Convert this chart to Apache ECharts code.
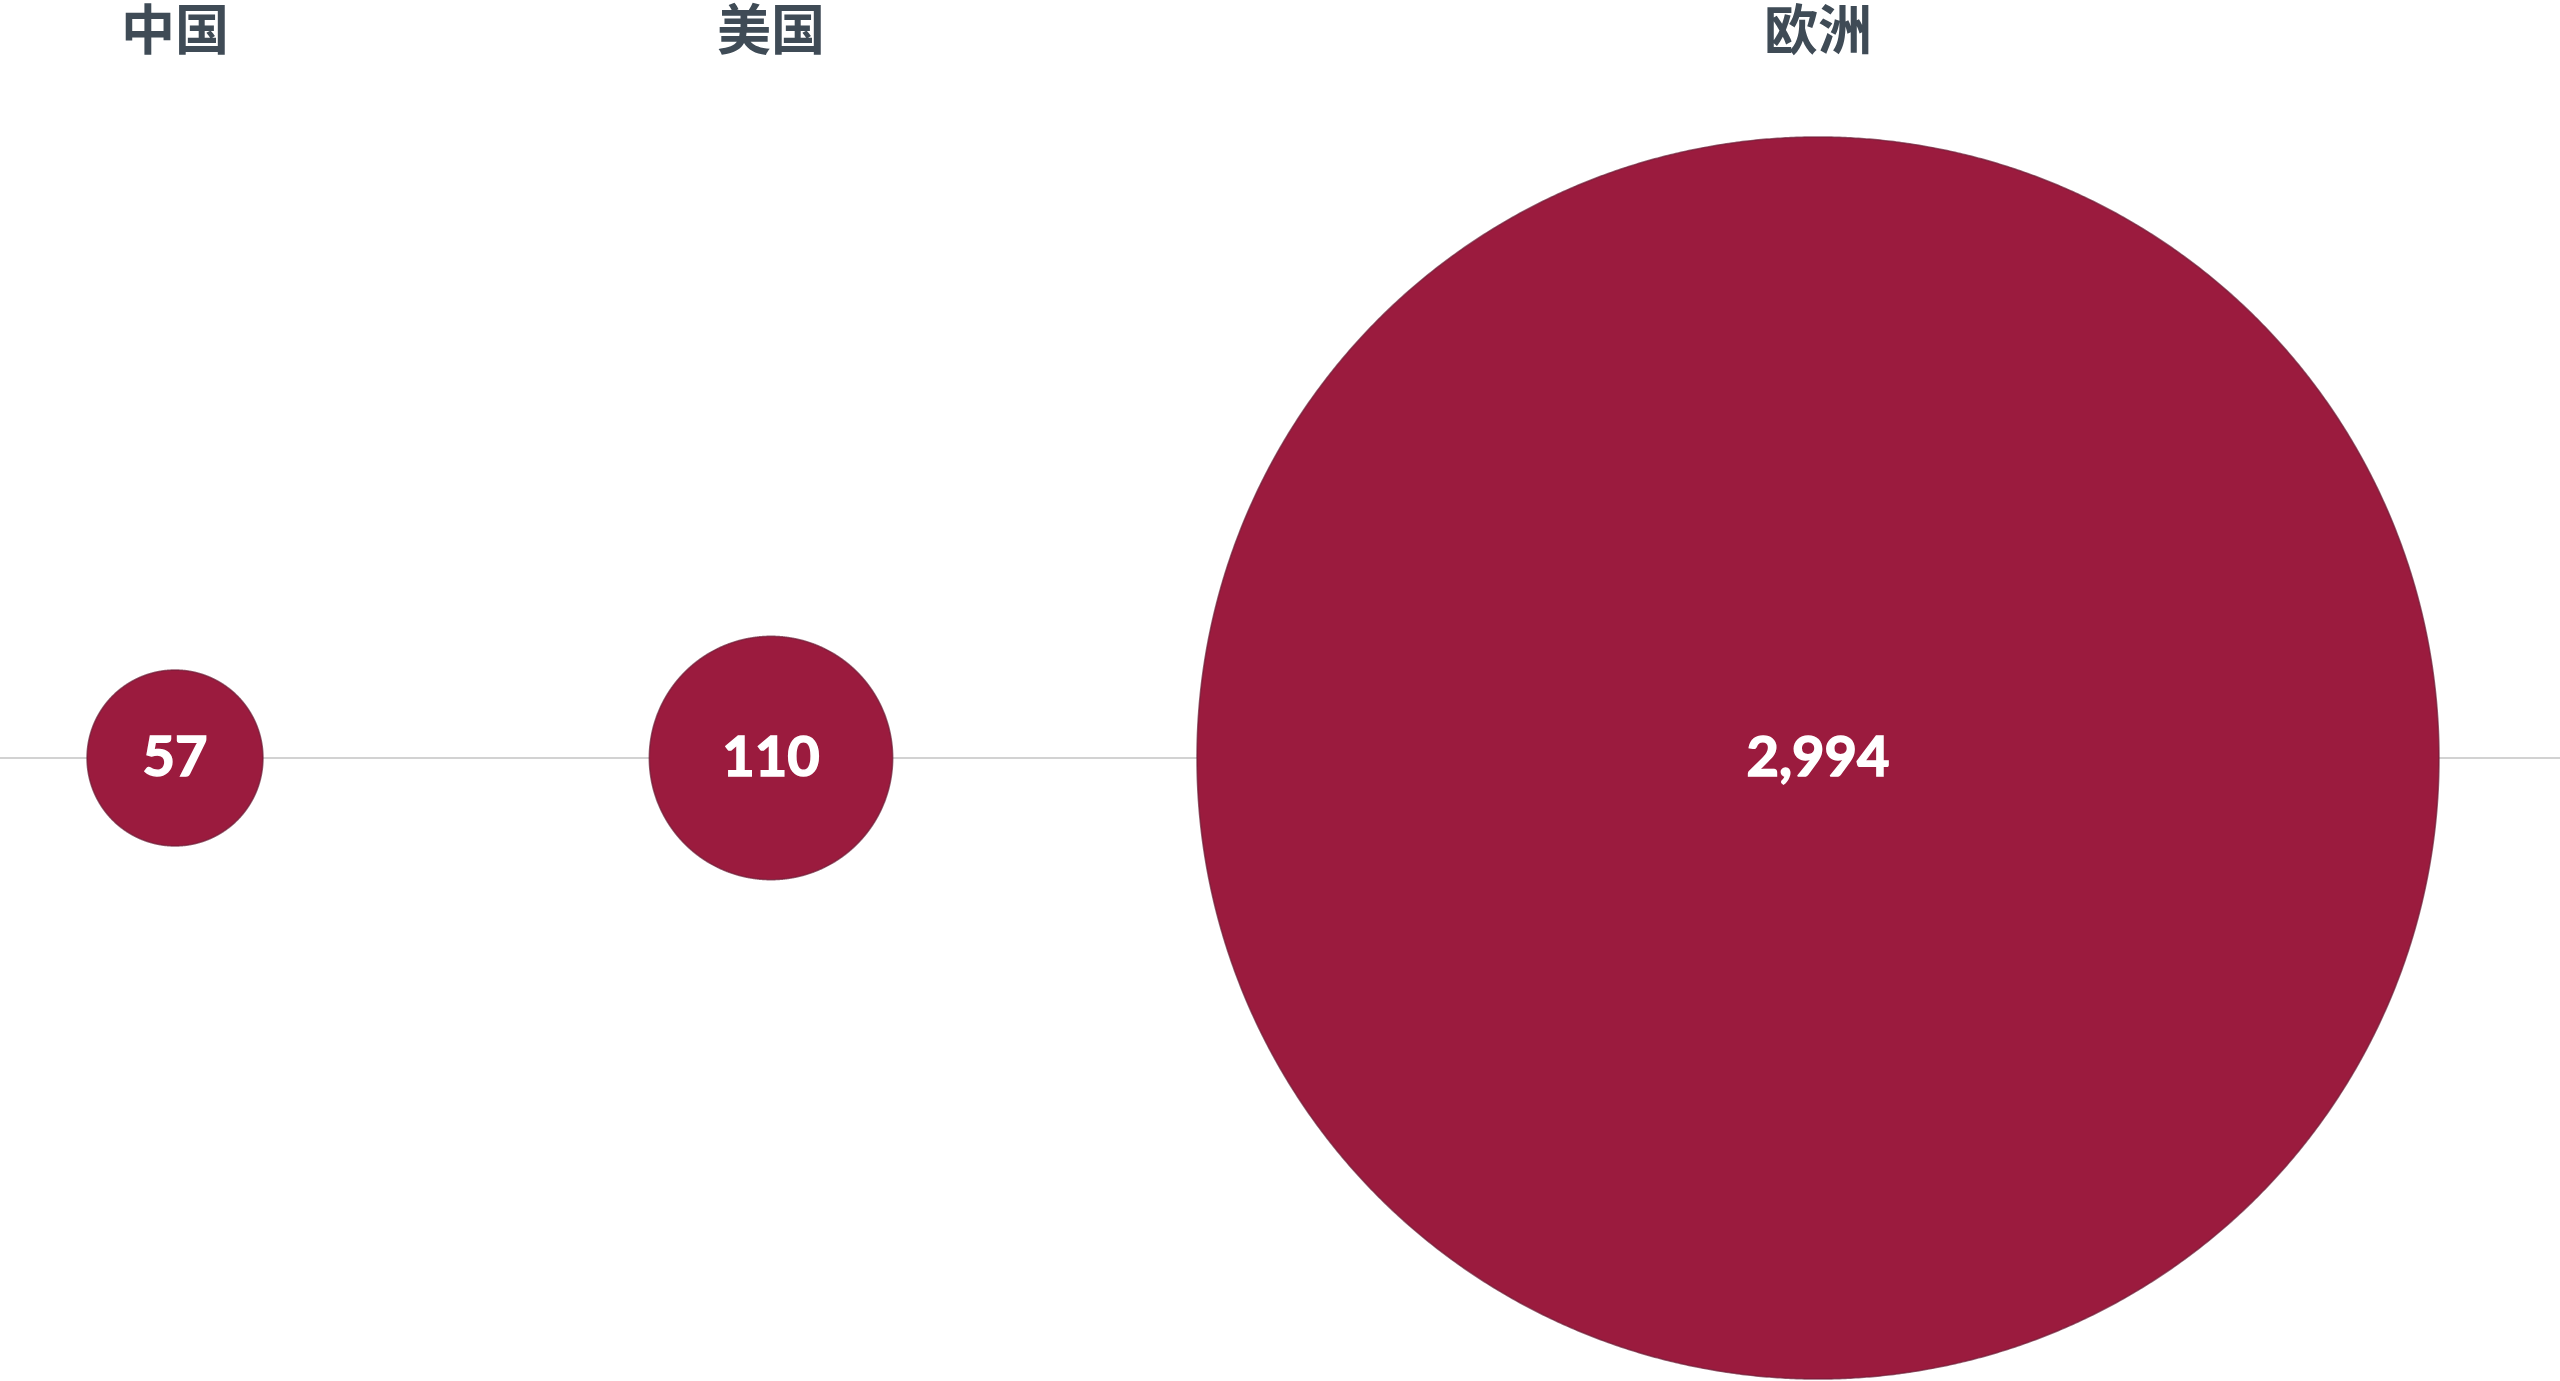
<!DOCTYPE html>
<html>
<head>
<meta charset="utf-8">
<style>
  html, body { margin: 0; padding: 0; background: #ffffff; }
  #chart { width: 2560px; height: 1381px; }
</style>
<script src="https://cdn.jsdelivr.net/npm/echarts@6/dist/echarts.min.js"></script>
</head>
<body>
<div id="chart"></div>
<script>
// ---- data ----
const categories = ['中国', '美国', '欧洲'];
const values = [57, 110, 2994];

// ---- layout (positions/styles, not data) ----
const gridCenters = [175, 771, 1818];
const gridWidth = 300;
const plotTop = 137;
const plotHeight = 1242;

function bubbleSize(v) {
  return 23.95 * Math.pow(v, 0.4933);
}

function circlePoints(cx, cy, r) {
  const n = 1440;
  const pts = [];
  for (let k = 0; k < n; k++) {
    const a = (k / n) * Math.PI * 2;
    pts.push([cx + r * Math.cos(a), cy + r * Math.sin(a)]);
  }
  return pts;
}

const chart = echarts.init(document.getElementById('chart'));

const grids = [];
const xAxes = [];
const yAxes = [];
const series = [];

categories.forEach(function (cat, i) {
  grids.push({
    left: gridCenters[i] - gridWidth / 2,
    width: gridWidth,
    top: plotTop,
    height: plotHeight,
    containLabel: false
  });
  xAxes.push({
    type: 'category',
    gridIndex: i,
    data: [cat],
    position: 'top',
    boundaryGap: true,
    axisLine: { show: false },
    axisTick: { show: false },
    splitLine: { show: false },
    axisLabel: {
      show: true,
      margin: 80,
      color: '#3f4b56',
      fontSize: 54,
      lineHeight: 56,
      fontWeight: 'bold',
      fontFamily: '"Noto Sans CJK SC", sans-serif'
    }
  });
  yAxes.push({
    type: 'value',
    gridIndex: i,
    min: -1,
    max: 1,
    show: false
  });
  series.push({
    type: 'custom',
    xAxisIndex: i,
    yAxisIndex: i,
    z: 5,
    clip: false,
    data: [[0, 0, values[i]]],
    renderItem: function (params, api) {
      const p = api.coord([api.value(0), api.value(1)]);
      const v = api.value(2);
      const r = bubbleSize(v) / 2;
      return {
        type: 'group',
        children: [
          {
            type: 'polygon',
            shape: { points: circlePoints(p[0], p[1], r) },
            style: {
              fill: '#9b1b3e',
              stroke: 'rgba(110,30,55,0.7)',
              lineWidth: 1.5
            }
          },
          {
            type: 'text',
            style: {
              x: p[0],
              y: p[1],
              text: v.toLocaleString('en-US'),
              align: 'center',
              verticalAlign: 'middle',
              fill: '#ffffff',
              stroke: '#ffffff',
              lineWidth: 1.5,
              fontSize: 56,
              fontWeight: 'bold',
              fontFamily: 'Lato, sans-serif'
            }
          }
        ]
      };
    }
  });
});

// full-width baseline grid
grids.push({ left: 0, right: 0, top: 0, height: plotTop + plotHeight / 2 });
xAxes.push({
  type: 'value',
  gridIndex: 3,
  min: 0,
  max: 1,
  position: 'bottom',
  axisLine: { show: true, lineStyle: { color: '#d2d2d2', width: 2 } },
  axisTick: { show: false },
  axisLabel: { show: false },
  splitLine: { show: false }
});
yAxes.push({ type: 'value', gridIndex: 3, min: 0, max: 1, show: false });

chart.setOption({
  animation: false,
  backgroundColor: '#ffffff',
  grid: grids,
  xAxis: xAxes,
  yAxis: yAxes,
  series: series
});
</script>
</body>
</html>
